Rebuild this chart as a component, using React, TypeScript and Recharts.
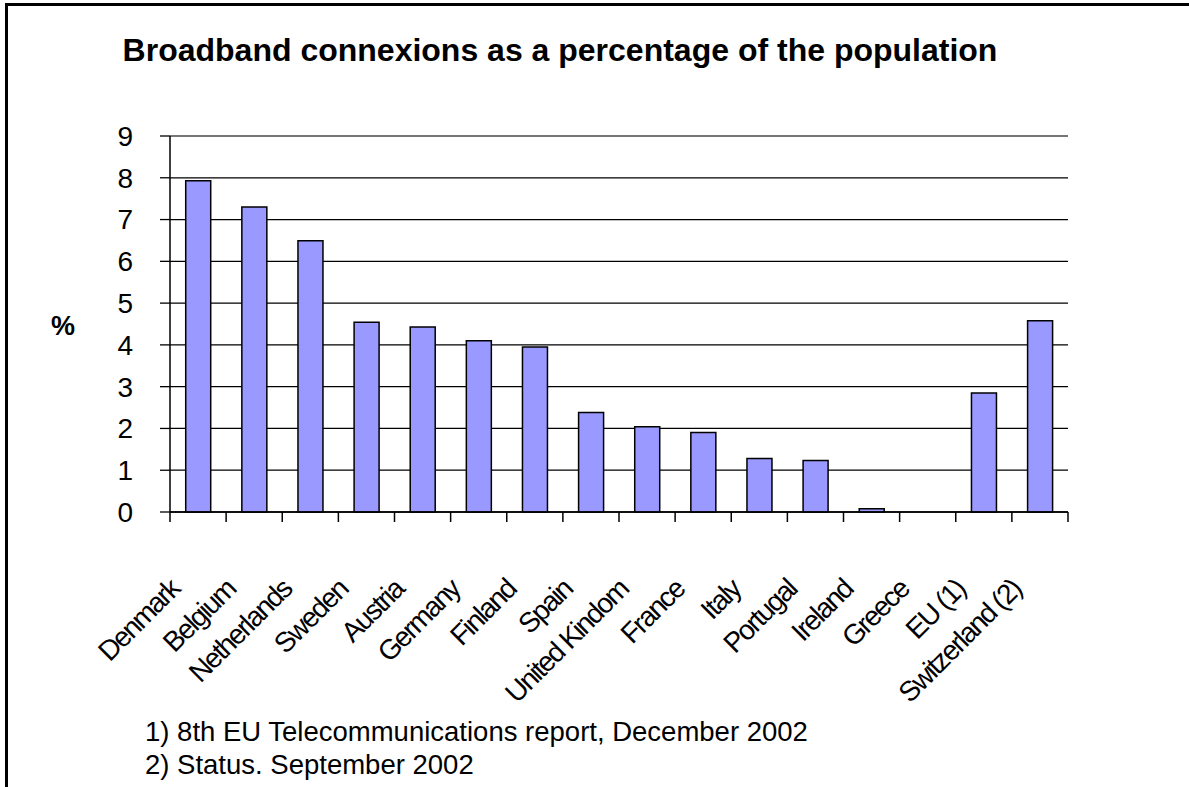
import { BarChart, Bar, XAxis, YAxis, CartesianGrid, ReferenceLine } from "recharts";

const countries = [
  "Denmark",
  "Belgium",
  "Netherlands",
  "Sweden",
  "Austria",
  "Germany",
  "Finland",
  "Spain",
  "United Kindom",
  "France",
  "Italy",
  "Portugal",
  "Ireland",
  "Greece",
  "EU (1)",
  "Switzerland (2)",
];

const broadband = [7.93, 7.3, 6.49, 4.54, 4.43, 4.1, 3.95, 2.38, 2.04, 1.9, 1.28, 1.23, 0.08, 0, 2.85, 4.58];

const yTicks = [0, 1, 2, 3, 4, 5, 6, 7, 8, 9];

const footnotes = ["1) 8th EU Telecommunications report, December 2002", "2) Status. September 2002"];

const font = "'Liberation Sans', Arial, sans-serif";

const data = countries.map((country, i) => ({ country, value: broadband[i] }));

function CountryTick(props: any) {
  const { x, y, payload, index } = props;
  const half = payload && payload.offset ? payload.offset : 28;
  const tx = x - 17;
  const ty = y + 79;
  return (
    <g>
      <line x1={x - half} y1={y} x2={x - half} y2={y + 10} stroke="#000" strokeWidth={1.5} />
      {index === countries.length - 1 && (
        <line x1={x + half} y1={y} x2={x + half} y2={y + 10} stroke="#000" strokeWidth={1.5} />
      )}
      <text
        x={tx}
        y={ty}
        transform={`rotate(-45, ${tx}, ${ty})`}
        textAnchor="end"
        fontSize={28}
        letterSpacing={-1.8}
        fontFamily={font}
        fill="#000"
      >
        {payload.value}
      </text>
    </g>
  );
}

export default function App() {
  return (
    <div
      style={{
        position: "absolute",
        left: 0,
        top: 0,
        width: 1189,
        height: 787,
        overflow: "hidden",
        background: "#fff",
        fontFamily: font,
      }}
    >
      <div
        style={{
          position: "absolute",
          left: 5,
          top: 3,
          width: 1200,
          height: 800,
          borderLeft: "3px solid #000",
          borderTop: "3px solid #000",
        }}
      />
      <div
        style={{
          position: "absolute",
          left: 0,
          top: 32,
          width: 1120,
          textAlign: "center",
          fontSize: 32,
          fontWeight: "bold",
          whiteSpace: "nowrap",
        }}
      >
        Broadband connexions as a percentage of the population
      </div>
      <div style={{ position: "absolute", left: 51, top: 311, fontSize: 27, fontWeight: "bold" }}>%</div>
      <BarChart
        width={1189}
        height={787}
        data={data}
        margin={{ top: 136, right: 121, left: 110, bottom: 175 }}
        barCategoryGap="28%"
        style={{ position: "absolute", left: 0, top: 0 }}
      >
        <CartesianGrid vertical={false} stroke="#000" strokeWidth={1.3} />
        <XAxis
          dataKey="country"
          interval={0}
          height={100}
          tickSize={0}
          tickMargin={0}
          tickLine={false}
          axisLine={{ stroke: "#000", strokeWidth: 1.5 }}
          tick={<CountryTick />}
        />
        <YAxis
          width={60}
          domain={[0, 9]}
          ticks={yTicks}
          interval={0}
          tickSize={10}
          tickMargin={27}
          axisLine={{ stroke: "#000", strokeWidth: 1.5 }}
          tickLine={{ stroke: "#000", strokeWidth: 1.3 }}
          tick={{ fontSize: 28, fill: "#000", fontFamily: font }}
        />
        <YAxis
          yAxisId="right"
          orientation="right"
          width={0}
          domain={[0, 9]}
          tick={false}
          tickLine={false}
          axisLine={{ stroke: "#888", strokeWidth: 1.5 }}
        />
        <ReferenceLine y={9} stroke="#888" strokeWidth={1.5} />
        <Bar dataKey="value" fill="#9999FF" stroke="#000" strokeWidth={1.5} isAnimationActive={false} />
      </BarChart>
      {footnotes.map((t, i) => (
        <div
          key={t}
          style={{
            position: "absolute",
            left: 145,
            top: 716 + i * 33,
            fontSize: 27.5,
            lineHeight: "32px",
            whiteSpace: "nowrap",
          }}
        >
          {t}
        </div>
      ))}
    </div>
  );
}
